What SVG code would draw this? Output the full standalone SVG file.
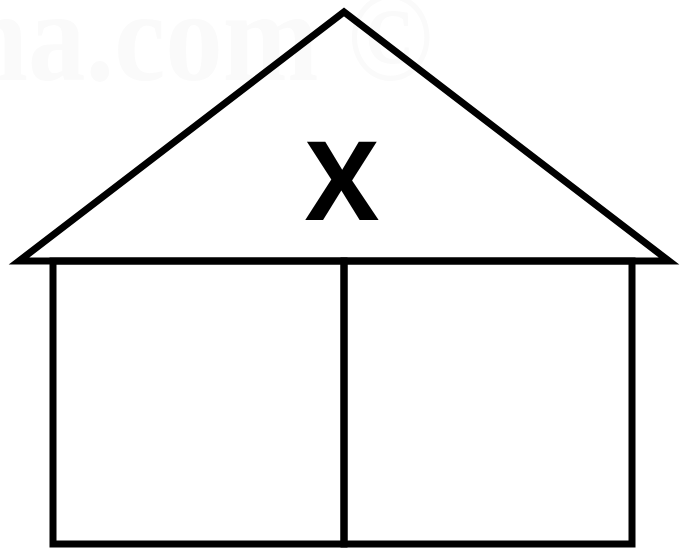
<svg xmlns="http://www.w3.org/2000/svg" width="688" height="548" viewBox="0 0 688 548">
<style>
.ln{fill:none;stroke:#000;stroke-width:7;stroke-linejoin:miter;stroke-miterlimit:20}
.wm{font-family:"Liberation Serif",serif;font-weight:bold;font-size:130px;fill:#fafafa}
.lbl{font-family:"Open Sans",sans-serif;font-weight:bold;font-size:110px;fill:#000}
</style>
<rect width="688" height="548" fill="#fff"/>
<text class="wm" x="-36" y="80" textLength="469" lengthAdjust="spacingAndGlyphs">na.com ©</text>
<g id="roof">
<polygon class="ln" points="19,261 344,12 669,261"/>
<text class="lbl" x="342" y="220" text-anchor="middle">X</text>
</g>
<g id="left-room"><rect class="ln" x="53" y="261" width="291" height="283"/></g>
<g id="right-room"><rect class="ln" x="344" y="261" width="288" height="283"/></g>
</svg>
